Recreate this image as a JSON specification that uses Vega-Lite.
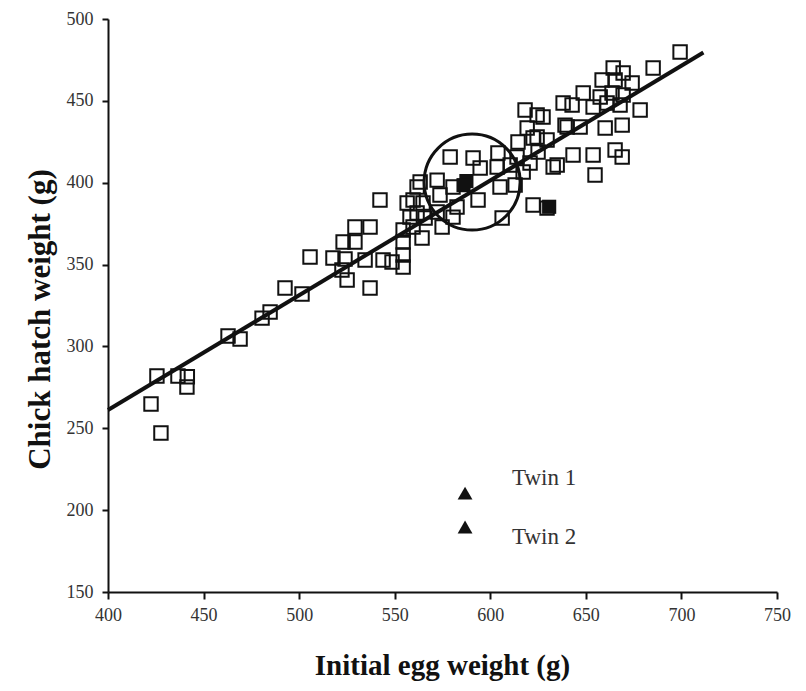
{
  "$schema": "https://vega.github.io/schema/vega-lite/v6.json",
  "autosize": "none",
  "width": 669,
  "height": 573,
  "padding": {"left": 108, "top": 19, "right": 29, "bottom": 99},
  "background": "white",
  "config": {
    "view": {"stroke": null},
    "axis": {
      "grid": false,
      "domainColor": "#111",
      "domainWidth": 2,
      "tickColor": "#111",
      "tickWidth": 2,
      "labelFont": "Liberation Serif",
      "labelFontSize": 18,
      "labelColor": "#333",
      "labelFlush": false,
      "titleFont": "Liberation Serif",
      "titleFontWeight": "bold",
      "titleColor": "#111"
    }
  },
  "datasets": {
    "eggs": [
      {"egg": 422.5, "chick": 264.8}, {"egg": 425.6, "chick": 281.9}, {"egg": 427.7, "chick": 247.1},
      {"egg": 436.6, "chick": 281.9}, {"egg": 441.5, "chick": 281.5}, {"egg": 441.3, "chick": 275.2},
      {"egg": 462.8, "chick": 306.4}, {"egg": 469.1, "chick": 304.5}, {"egg": 480.6, "chick": 317.3},
      {"egg": 484.8, "chick": 321.0}, {"egg": 492.6, "chick": 335.7}, {"egg": 501.5, "chick": 332.0},
      {"egg": 505.7, "chick": 354.6}, {"egg": 517.7, "chick": 354.0}, {"egg": 522.4, "chick": 346.7},
      {"egg": 523.0, "chick": 363.8}, {"egg": 524.0, "chick": 353.4}, {"egg": 525.1, "chick": 340.6},
      {"egg": 529.2, "chick": 372.9}, {"egg": 529.2, "chick": 363.8}, {"egg": 534.5, "chick": 352.8},
      {"egg": 537.1, "chick": 372.9}, {"egg": 537.1, "chick": 335.7}, {"egg": 542.3, "chick": 389.4},
      {"egg": 543.9, "chick": 352.8}, {"egg": 548.6, "chick": 351.6}, {"egg": 554.4, "chick": 348.5},
      {"egg": 554.4, "chick": 355.8}, {"egg": 554.4, "chick": 363.8}, {"egg": 554.4, "chick": 371.1},
      {"egg": 556.5, "chick": 387.6}, {"egg": 558.0, "chick": 379.0}, {"egg": 559.6, "chick": 372.9},
      {"egg": 559.6, "chick": 389.4}, {"egg": 561.7, "chick": 381.5}, {"egg": 561.7, "chick": 397.4},
      {"egg": 563.3, "chick": 400.4}, {"egg": 564.3, "chick": 366.2}, {"egg": 564.8, "chick": 387.6},
      {"egg": 565.9, "chick": 378.4}, {"egg": 572.2, "chick": 401.6}, {"egg": 572.2, "chick": 382.1},
      {"egg": 573.7, "chick": 392.5}, {"egg": 574.8, "chick": 372.9}, {"egg": 579.0, "chick": 415.7},
      {"egg": 580.5, "chick": 397.4}, {"egg": 580.5, "chick": 379.0}, {"egg": 582.6, "chick": 385.2},
      {"egg": 591.0, "chick": 415.1}, {"egg": 593.6, "chick": 389.4}, {"egg": 594.7, "chick": 409.0},
      {"egg": 603.6, "chick": 409.6}, {"egg": 604.0, "chick": 418.1}, {"egg": 605.1, "chick": 397.4},
      {"egg": 606.2, "chick": 378.4}, {"egg": 610.4, "chick": 410.8}, {"egg": 613.0, "chick": 398.6},
      {"egg": 614.0, "chick": 415.7}, {"egg": 614.5, "chick": 424.9}, {"egg": 617.2, "chick": 406.5},
      {"egg": 618.2, "chick": 444.4}, {"egg": 619.3, "chick": 433.4}, {"egg": 620.8, "chick": 412.0},
      {"egg": 622.4, "chick": 427.3}, {"egg": 622.4, "chick": 386.4}, {"egg": 624.5, "chick": 441.4},
      {"egg": 624.5, "chick": 427.9}, {"egg": 625.0, "chick": 418.8}, {"egg": 627.6, "chick": 440.1},
      {"egg": 629.7, "chick": 426.1}, {"egg": 629.7, "chick": 384.5}, {"egg": 632.9, "chick": 409.6},
      {"egg": 635.0, "chick": 410.8}, {"egg": 638.1, "chick": 448.7}, {"egg": 639.1, "chick": 435.2},
      {"egg": 640.2, "chick": 434.0}, {"egg": 642.8, "chick": 447.5}, {"egg": 643.3, "chick": 416.9},
      {"egg": 647.0, "chick": 434.0}, {"egg": 648.6, "chick": 454.8}, {"egg": 653.8, "chick": 446.2},
      {"egg": 653.8, "chick": 416.9}, {"egg": 654.8, "chick": 404.7}, {"egg": 657.5, "chick": 452.4},
      {"egg": 658.5, "chick": 462.7}, {"egg": 660.1, "chick": 433.4}, {"egg": 661.1, "chick": 448.7},
      {"egg": 663.7, "chick": 454.8}, {"egg": 664.3, "chick": 470.1}, {"egg": 665.3, "chick": 462.7},
      {"egg": 665.3, "chick": 420.0}, {"egg": 667.9, "chick": 447.5}, {"egg": 669.0, "chick": 435.2},
      {"egg": 669.0, "chick": 415.7}, {"egg": 669.5, "chick": 467.0}, {"egg": 669.5, "chick": 453.6},
      {"egg": 674.2, "chick": 460.9}, {"egg": 678.4, "chick": 444.4}, {"egg": 685.2, "chick": 470.1},
      {"egg": 699.3, "chick": 479.8}
    ],
    "filled": [
      {"egg": 587.5, "chick": 401.0}, {"egg": 586.0, "chick": 398.5}, {"egg": 630.8, "chick": 385.3}
    ],
    "fit": [
      {"egg": 400, "chick": 261.2}, {"egg": 711.5, "chick": 479.5}
    ],
    "circle": [
      {"egg": 590.5, "chick": 400.4}
    ],
    "twins": [
      {"egg": 586.8, "chick": 210.4, "label": "Twin 1", "ly": 219.6},
      {"egg": 586.8, "chick": 189.7, "label": "Twin 2", "ly": 183.6}
    ]
  },
  "layer": [
    {
      "data": {"name": "fit"},
      "mark": {"type": "line", "color": "#111", "strokeWidth": 4},
      "encoding": {
        "x": {
          "field": "egg", "type": "quantitative",
          "scale": {"domain": [400, 750], "nice": false, "zero": false},
          "axis": {
            "values": [400, 450, 500, 550, 600, 650, 700, 750],
            "tickSize": 7, "labelPadding": 7,
            "labelFont": "Liberation Serif", "labelFontSize": 18, "labelFlush": false,
            "title": "Initial egg weight (g)",
            "titleFontSize": 29,
            "titleX": 334, "titleY": 73, "titleBaseline": "middle", "titleAlign": "center"
          }
        },
        "y": {
          "field": "chick", "type": "quantitative",
          "scale": {"domain": [150, 500], "nice": false, "zero": false},
          "axis": {
            "values": [150, 200, 250, 300, 350, 400, 450, 500],
            "tickSize": 6, "labelPadding": 9,
            "labelFont": "Liberation Serif", "labelFontSize": 18, "labelFlush": false,
            "title": "Chick hatch weight (g)",
            "titleFontSize": 31,
            "titleX": -68, "titleY": 300, "titleAngle": -90, "titleBaseline": "middle", "titleAlign": "center"
          }
        }
      }
    },
    {
      "data": {"name": "eggs"},
      "mark": {"type": "point", "shape": "square", "filled": false, "size": 180, "stroke": "#111", "strokeWidth": 2, "opacity": 1},
      "encoding": {
        "x": {"field": "egg", "type": "quantitative"},
        "y": {"field": "chick", "type": "quantitative"}
      }
    },
    {
      "data": {"name": "filled"},
      "mark": {"type": "point", "shape": "square", "filled": true, "size": 200, "color": "#111", "opacity": 1},
      "encoding": {
        "x": {"field": "egg", "type": "quantitative"},
        "y": {"field": "chick", "type": "quantitative"}
      }
    },
    {
      "data": {"name": "circle"},
      "mark": {"type": "point", "shape": "circle", "filled": false, "size": 9216, "stroke": "#111", "strokeWidth": 3, "opacity": 1},
      "encoding": {
        "x": {"field": "egg", "type": "quantitative"},
        "y": {"field": "chick", "type": "quantitative"}
      }
    },
    {
      "data": {"name": "twins"},
      "mark": {"type": "point", "shape": "triangle-up", "filled": true, "size": 220, "color": "#111", "opacity": 1},
      "encoding": {
        "x": {"field": "egg", "type": "quantitative"},
        "y": {"field": "chick", "type": "quantitative"}
      }
    },
    {
      "data": {"name": "twins"},
      "mark": {"type": "text", "align": "left", "baseline": "middle", "dx": 47, "font": "Liberation Serif", "fontSize": 23, "color": "#333"},
      "encoding": {
        "x": {"field": "egg", "type": "quantitative"},
        "y": {"field": "ly", "type": "quantitative"},
        "text": {"field": "label"}
      }
    }
  ]
}
